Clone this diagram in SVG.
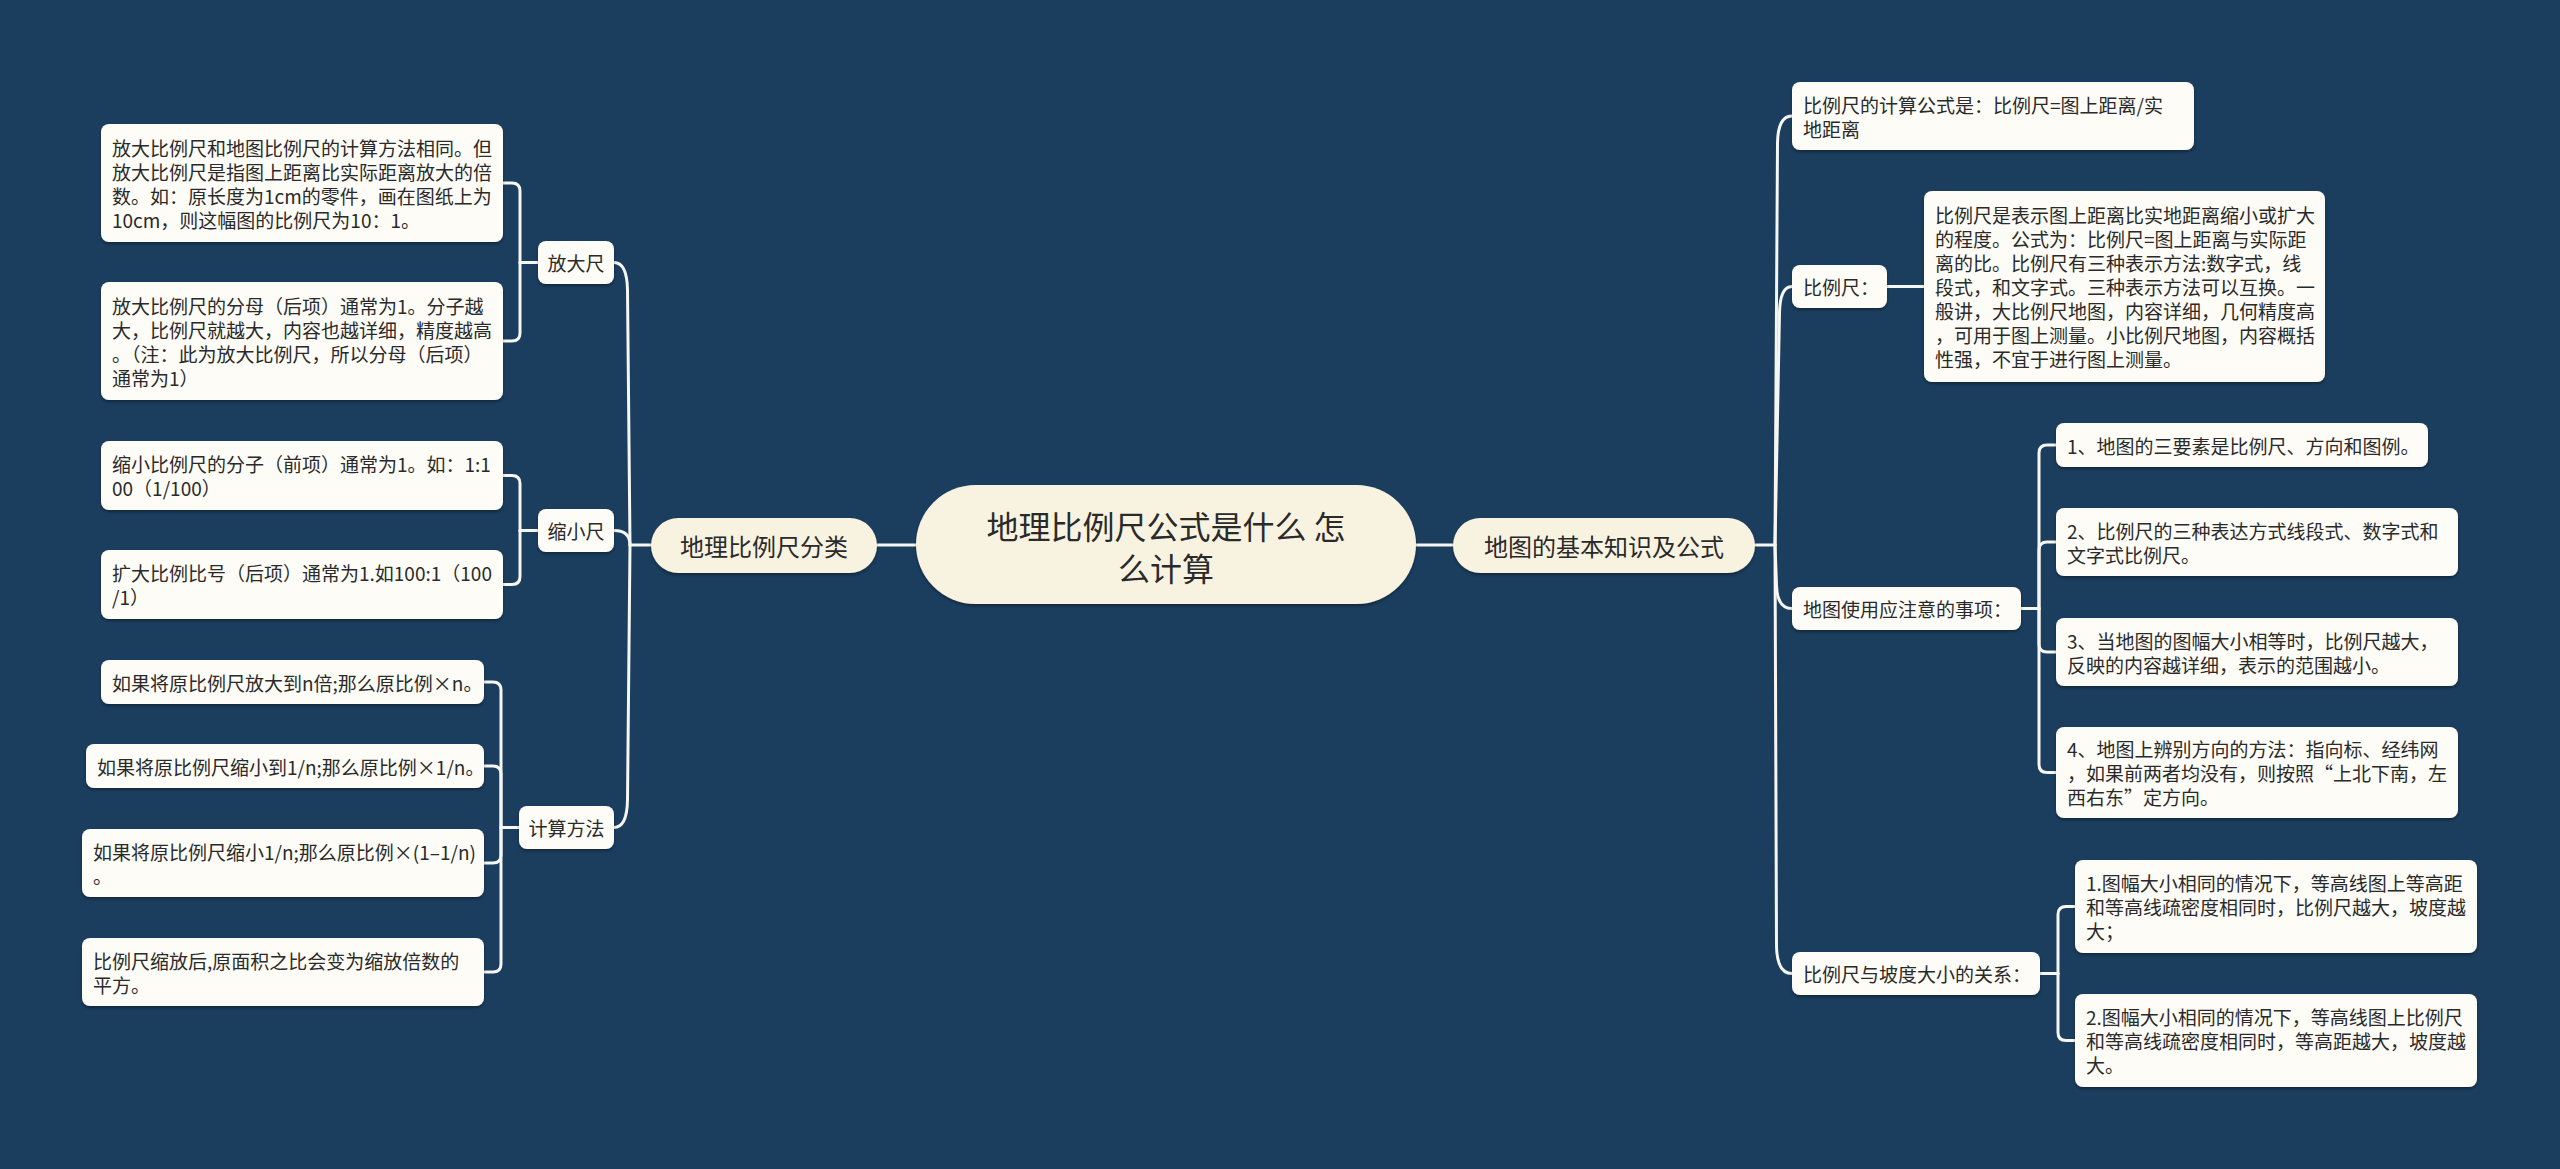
<svg xmlns="http://www.w3.org/2000/svg" width="2560" height="1169" viewBox="0 0 2560 1169">
<defs>
<style>
.bg{fill:#1b3d5e}
.conn{fill:none;stroke:#f6f6f2;stroke-width:3;stroke-linecap:round;stroke-linejoin:round}
.leaf{fill:#fdfcf7;filter:url(#sh)}
.cream{fill:#f8f3e1;filter:url(#sh)}
.t{font-family:"Noto Sans CJK SC","Noto Sans",sans-serif;font-size:19px;fill:#2a2a2a;dominant-baseline:central}
.tm{font-family:"Noto Sans CJK SC","Noto Sans",sans-serif;font-size:24px;fill:#2a2a2a;dominant-baseline:central;text-anchor:middle}
.tr{font-family:"Noto Sans CJK SC","Noto Sans",sans-serif;font-size:32px;fill:#2a2a2a;dominant-baseline:central;text-anchor:middle}
.c{text-anchor:middle}
</style>
<filter id="sh" x="-10%" y="-20%" width="120%" height="150%">
<feDropShadow dx="0" dy="2" stdDeviation="1.5" flood-color="#000" flood-opacity="0.35"/>
</filter>
</defs>
<rect class="bg" x="0" y="0" width="2560" height="1169"/>

<g id="connectors">
<path class="conn" d="M877 545 H916"/>
<path class="conn" d="M1416 545 H1453"/>
<path class="conn" d="M651 545 H630"/>
<path class="conn" d="M614 262.5 Q627 262.5 627.5 290 L630 545"/>
<path class="conn" d="M614 530.5 C624 530.5 630 535 630 545"/>
<path class="conn" d="M614 827.5 Q627 827.5 627.5 800 L630 545"/>
<path class="conn" d="M1755 545 H1775"/>
<path class="conn" d="M1792 116 Q1778 116 1777.5 143 L1775 545"/>
<path class="conn" d="M1792 286.5 Q1780 286.5 1779.5 313 L1775 545"/>
<path class="conn" d="M1792 608.5 Q1777 608.5 1776.5 585 L1775 545"/>
<path class="conn" d="M1792 973.5 Q1777 973.5 1776.5 946 L1775 545"/>
<path class="conn" d="M538 262.5 H520"/>
<path class="conn" d="M520 262.5 V191 Q520 183 512 183 H503"/>
<path class="conn" d="M520 262.5 V333 Q520 341 512 341 H503"/>
<path class="conn" d="M538 530.5 H520"/>
<path class="conn" d="M520 530.5 V483.5 Q520 475.5 512 475.5 H503"/>
<path class="conn" d="M520 530.5 V576.5 Q520 584.5 512 584.5 H503"/>
<path class="conn" d="M519 827.5 H501"/>
<path class="conn" d="M501 827.5 V690 Q501 682 493 682 H484"/>
<path class="conn" d="M501 827.5 V774 Q501 766 493 766 H484"/>
<path class="conn" d="M501 827.5 V855 Q501 863 493 863 H484"/>
<path class="conn" d="M501 827.5 V964 Q501 972 493 972 H484"/>
<path class="conn" d="M1887 286.5 H1924"/>
<path class="conn" d="M2021 608.5 H2039"/>
<path class="conn" d="M2039 608.5 V453 Q2039 445 2047 445 H2056"/>
<path class="conn" d="M2039 608.5 V550 Q2039 542 2047 542 H2056"/>
<path class="conn" d="M2039 608.5 V644 Q2039 652 2047 652 H2056"/>
<path class="conn" d="M2039 608.5 V764.5 Q2039 772.5 2047 772.5 H2056"/>
<path class="conn" d="M2040 973.5 H2058"/>
<path class="conn" d="M2058 973.5 V914.5 Q2058 906.5 2066 906.5 H2075"/>
<path class="conn" d="M2058 973.5 V1032.5 Q2058 1040.5 2066 1040.5 H2075"/>
</g>

<g id="root">
<rect class="cream" x="916" y="485" width="500" height="119" rx="59.5"/>
<text class="tr" x="1166" y="525">地理比例尺公式是什么 怎</text>
<text class="tr" x="1166" y="567">么计算</text>
</g>

<g id="branch-left">
<rect class="cream" x="651" y="518" width="226" height="55" rx="27.5"/>
<text class="tm" x="764" y="545.5">地理比例尺分类</text>
</g>

<g id="branch-right">
<rect class="cream" x="1453" y="518" width="302" height="55" rx="27.5"/>
<text class="tm" x="1604" y="545.5">地图的基本知识及公式</text>
</g>

<g id="n-fangdachi">
<rect class="leaf" x="538" y="241" width="76" height="43" rx="8"/>
<text class="t c" x="576" y="262.5">放大尺</text>
</g>
<g id="n-suoxiaochi">
<rect class="leaf" x="538" y="509" width="76" height="43" rx="8"/>
<text class="t c" x="576" y="530.5">缩小尺</text>
</g>
<g id="n-jisuanfangfa">
<rect class="leaf" x="519" y="806" width="95" height="43" rx="8"/>
<text class="t c" x="566.5" y="827.5">计算方法</text>
</g>

<g id="a1">
<rect class="leaf" x="101" y="124" width="402" height="118" rx="8"/>
<text class="t" x="112" y="147">放大比例尺和地图比例尺的计算方法相同。但</text>
<text class="t" x="112" y="171">放大比例尺是指图上距离比实际距离放大的倍</text>
<text class="t" x="112" y="195">数。如：原长度为1cm的零件，画在图纸上为</text>
<text class="t" x="112" y="219">10cm，则这幅图的比例尺为10：1。</text>
</g>
<g id="a2">
<rect class="leaf" x="101" y="282" width="402" height="118" rx="8"/>
<text class="t" x="112" y="305">放大比例尺的分母（后项）通常为1。分子越</text>
<text class="t" x="112" y="329">大，比例尺就越大，内容也越详细，精度越高</text>
<text class="t" x="112" y="353">。（注：此为放大比例尺，所以分母（后项）</text>
<text class="t" x="112" y="377">通常为1）</text>
</g>
<g id="b1">
<rect class="leaf" x="101" y="441" width="402" height="69" rx="8"/>
<text class="t" x="112" y="463.5">缩小比例尺的分子（前项）通常为1。如：1:1</text>
<text class="t" x="112" y="487.5">00（1/100）</text>
</g>
<g id="b2">
<rect class="leaf" x="101" y="550" width="402" height="69" rx="8"/>
<text class="t" x="112" y="572.5">扩大比例比号（后项）通常为1.如100:1（100</text>
<text class="t" x="112" y="596.5">/1）</text>
</g>
<g id="c1">
<rect class="leaf" x="101" y="660" width="383" height="44" rx="8"/>
<text class="t" x="112" y="682">如果将原比例尺放大到n倍;那么原比例×n。</text>
</g>
<g id="c2">
<rect class="leaf" x="86" y="744" width="398" height="44" rx="8"/>
<text class="t" x="97" y="766">如果将原比例尺缩小到1/n;那么原比例×1/n。</text>
</g>
<g id="c3">
<rect class="leaf" x="82" y="829" width="402" height="68" rx="8"/>
<text class="t" x="93" y="851">如果将原比例尺缩小1/n;那么原比例×(1–1/n)</text>
<text class="t" x="93" y="875">。</text>
</g>
<g id="c4">
<rect class="leaf" x="82" y="938" width="402" height="68" rx="8"/>
<text class="t" x="93" y="960">比例尺缩放后,原面积之比会变为缩放倍数的</text>
<text class="t" x="93" y="984">平方。</text>
</g>

<g id="r1">
<rect class="leaf" x="1792" y="82" width="402" height="68" rx="8"/>
<text class="t" x="1803" y="104">比例尺的计算公式是：比例尺=图上距离/实</text>
<text class="t" x="1803" y="128">地距离</text>
</g>
<g id="r2">
<rect class="leaf" x="1792" y="265" width="95" height="43" rx="8"/>
<text class="t" x="1803" y="286.5">比例尺：</text>
</g>
<g id="r2-leaf">
<rect class="leaf" x="1924" y="191" width="401" height="191" rx="8"/>
<text class="t" x="1935" y="214.5">比例尺是表示图上距离比实地距离缩小或扩大</text>
<text class="t" x="1935" y="238.5">的程度。公式为：比例尺=图上距离与实际距</text>
<text class="t" x="1935" y="262.5">离的比。比例尺有三种表示方法:数字式，线</text>
<text class="t" x="1935" y="286.5">段式，和文字式。三种表示方法可以互换。一</text>
<text class="t" x="1935" y="310.5">般讲，大比例尺地图，内容详细，几何精度高</text>
<text class="t" x="1935" y="334.5">，可用于图上测量。小比例尺地图，内容概括</text>
<text class="t" x="1935" y="358.5">性强，不宜于进行图上测量。</text>
</g>
<g id="r3">
<rect class="leaf" x="1792" y="587" width="229" height="43" rx="8"/>
<text class="t" x="1803" y="608.5">地图使用应注意的事项：</text>
</g>
<g id="l1">
<rect class="leaf" x="2056" y="423" width="372" height="44" rx="8"/>
<text class="t" x="2067" y="445">1、地图的三要素是比例尺、方向和图例。</text>
</g>
<g id="l2">
<rect class="leaf" x="2056" y="508" width="402" height="68" rx="8"/>
<text class="t" x="2067" y="530">2、比例尺的三种表达方式线段式、数字式和</text>
<text class="t" x="2067" y="554">文字式比例尺。</text>
</g>
<g id="l3">
<rect class="leaf" x="2056" y="618" width="402" height="68" rx="8"/>
<text class="t" x="2067" y="640">3、当地图的图幅大小相等时，比例尺越大，</text>
<text class="t" x="2067" y="664">反映的内容越详细，表示的范围越小。</text>
</g>
<g id="l4">
<rect class="leaf" x="2056" y="727" width="402" height="91" rx="8"/>
<text class="t" x="2067" y="748.5">4、地图上辨别方向的方法：指向标、经纬网</text>
<text class="t" x="2067" y="772.5">，如果前两者均没有，则按照“上北下南，左</text>
<text class="t" x="2067" y="796.5">西右东”定方向。</text>
</g>
<g id="r4">
<rect class="leaf" x="1792" y="952" width="248" height="43" rx="8"/>
<text class="t" x="1803" y="973.5">比例尺与坡度大小的关系：</text>
</g>
<g id="m1">
<rect class="leaf" x="2075" y="860" width="402" height="93" rx="8"/>
<text class="t" x="2086" y="882.5">1.图幅大小相同的情况下，等高线图上等高距</text>
<text class="t" x="2086" y="906.5">和等高线疏密度相同时，比例尺越大，坡度越</text>
<text class="t" x="2086" y="930.5">大；</text>
</g>
<g id="m2">
<rect class="leaf" x="2075" y="994" width="402" height="93" rx="8"/>
<text class="t" x="2086" y="1016.5">2.图幅大小相同的情况下，等高线图上比例尺</text>
<text class="t" x="2086" y="1040.5">和等高线疏密度相同时，等高距越大，坡度越</text>
<text class="t" x="2086" y="1064.5">大。</text>
</g>
</svg>
